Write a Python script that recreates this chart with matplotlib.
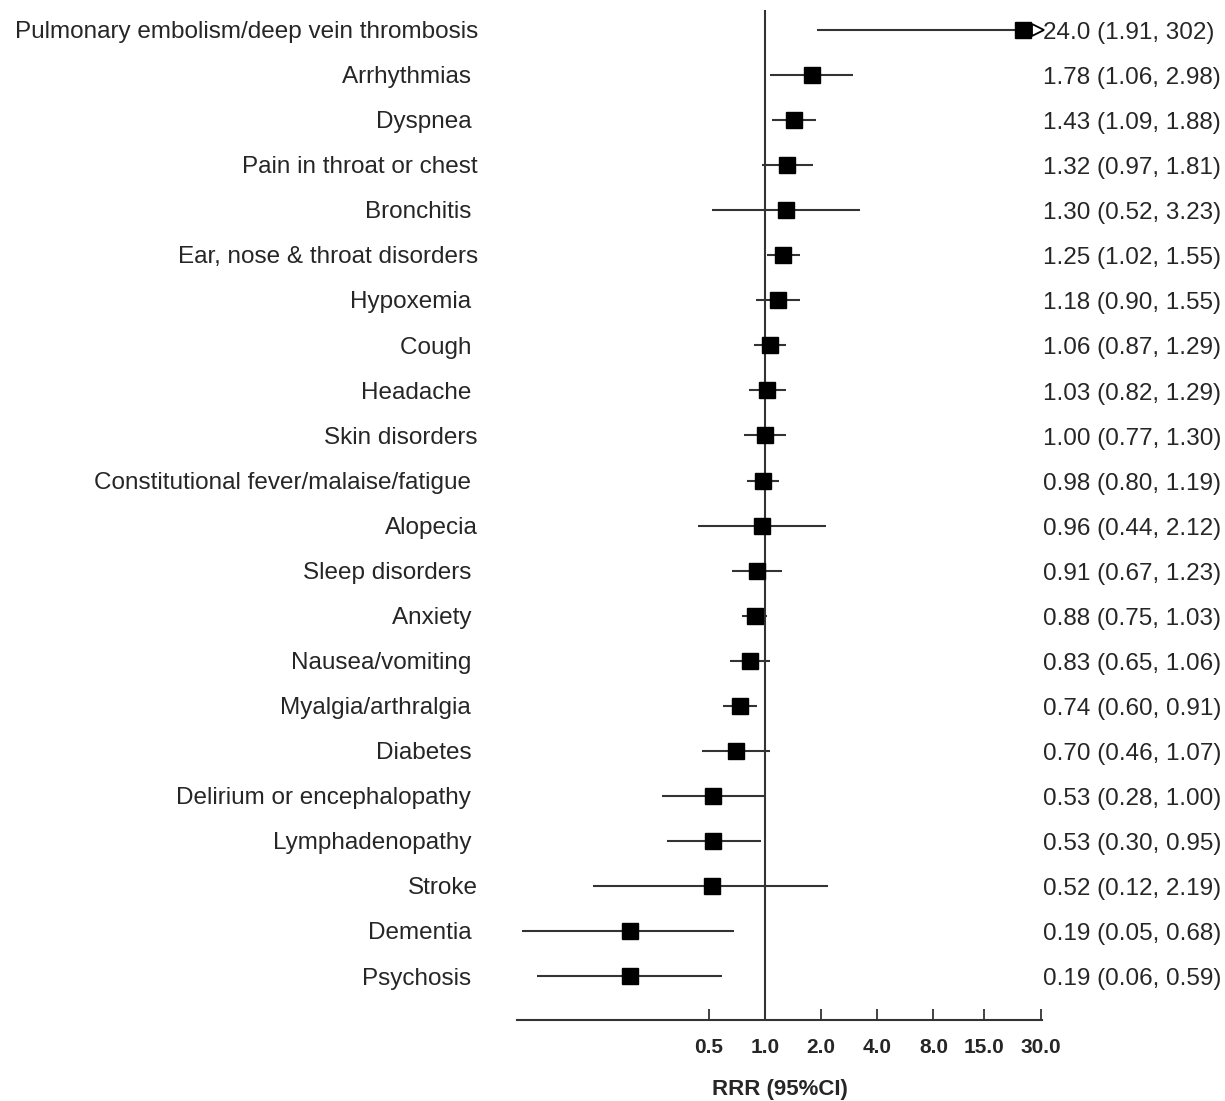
import matplotlib
matplotlib.use("Agg")
import matplotlib.pyplot as plt
import matplotlib.transforms as mtransforms
import numpy as np

labels = [
    "Pulmonary embolism/deep vein thrombosis",
    "Arrhythmias ",
    "Dyspnea ",
    "Pain in throat or chest",
    "Bronchitis ",
    "Ear, nose & throat disorders",
    "Hypoxemia ",
    "Cough ",
    "Headache ",
    "Skin disorders",
    "Constitutional fever/malaise/fatigue ",
    "Alopecia",
    "Sleep disorders ",
    "Anxiety ",
    "Nausea/vomiting ",
    "Myalgia/arthralgia ",
    "Diabetes ",
    "Delirium or encephalopathy ",
    "Lymphadenopathy ",
    "Stroke",
    "Dementia ",
    "Psychosis ",
]
rrr = [24.0, 1.78, 1.43, 1.32, 1.30, 1.25, 1.18, 1.06, 1.03, 1.00, 0.98,
       0.96, 0.91, 0.88, 0.83, 0.74, 0.70, 0.53, 0.53, 0.52, 0.19, 0.19]
lower = [1.91, 1.06, 1.09, 0.97, 0.52, 1.02, 0.90, 0.87, 0.82, 0.77, 0.80,
         0.44, 0.67, 0.75, 0.65, 0.60, 0.46, 0.28, 0.30, 0.12, 0.05, 0.06]
upper = [302, 2.98, 1.88, 1.81, 3.23, 1.55, 1.55, 1.29, 1.29, 1.30, 1.19,
         2.12, 1.23, 1.03, 1.06, 0.91, 1.07, 1.00, 0.95, 2.19, 0.68, 0.59]
ci_text = ["24.0 (1.91, 302)", "1.78 (1.06, 2.98)", "1.43 (1.09, 1.88)",
           "1.32 (0.97, 1.81)", "1.30 (0.52, 3.23)", "1.25 (1.02, 1.55)",
           "1.18 (0.90, 1.55)", "1.06 (0.87, 1.29)", "1.03 (0.82, 1.29)",
           "1.00 (0.77, 1.30)", "0.98 (0.80, 1.19)", "0.96 (0.44, 2.12)",
           "0.91 (0.67, 1.23)", "0.88 (0.75, 1.03)", "0.83 (0.65, 1.06)",
           "0.74 (0.60, 0.91)", "0.70 (0.46, 1.07)", "0.53 (0.28, 1.00)",
           "0.53 (0.30, 0.95)", "0.52 (0.12, 2.19)", "0.19 (0.05, 0.68)",
           "0.19 (0.06, 0.59)"]
xticks = [0.5, 1.0, 2.0, 4.0, 8.0, 15.0, 30.0]
xtick_labels = ["0.5", "1.0", "2.0", "4.0", "8.0", "15.0", "30.0"]
xlabel = "RRR (95%CI)"

text_color = "#262626"
line_color = "#333333"
sans = ["Liberation Sans", "DejaVu Sans"]

fig = plt.figure(figsize=(12.25, 11.01), dpi=100)
ax = fig.add_axes([517 / 1225, 1 - 1020 / 1101, 525 / 1225, 1010 / 1101])

xmin, xmax = 0.047, 30.5
ax.set_xscale("log", base=2)
ax.set_xlim(xmin, xmax)
n = len(labels)
ax.set_ylim(n - 0.03, -0.44)

y = np.arange(n)
for i in range(n):
    lo = max(lower[i], xmin)
    hi = upper[i]
    clipped = hi > xmax
    hi_draw = min(hi, xmax * 0.96) if clipped else hi
    ax.plot([lo, hi_draw], [y[i], y[i]], color=line_color, lw=1.5,
            solid_capstyle="butt", zorder=2)
    if clipped:
        ax.plot([xmax * 0.955], [y[i]], marker=">", markersize=8,
                markerfacecolor="white", markeredgecolor="black",
                markeredgewidth=1.3, zorder=4, clip_on=False)

ax.plot(rrr, y, linestyle="none", marker="s", markersize=11,
        color="black", zorder=3)

ax.axvline(1.0, color=line_color, lw=1.5, zorder=1)

for s in ["top", "right", "left"]:
    ax.spines[s].set_visible(False)
ax.spines["bottom"].set_linewidth(1.5)
ax.spines["bottom"].set_color(line_color)
ax.set_yticks([])
ax.set_xticks(xticks)
ax.xaxis.set_minor_locator(matplotlib.ticker.NullLocator())
ax.set_xticklabels(xtick_labels)
ax.tick_params(axis="x", direction="in", length=8, width=1.3, color=line_color,
               pad=13)
for t in ax.get_xticklabels():
    t.set_fontfamily(sans)
    t.set_fontweight("bold")
    t.set_fontsize(15)
    t.set_color(text_color)
ax.set_xlabel(xlabel, fontsize=16, fontweight="bold", family=sans,
              color=text_color, labelpad=16)

trans = mtransforms.blended_transform_factory(ax.transAxes, ax.transData)
for i in range(n):
    ax.text(-0.0743, y[i] + 0.05, labels[i], transform=trans, ha="right",
            va="center", fontsize=17.5, family=sans, color=text_color)
    ax.text(1.002, y[i] + 0.07, ci_text[i], transform=trans, ha="left",
            va="center", fontsize=17.5, family=sans, color=text_color)

fig.savefig("out.png", dpi=100)
